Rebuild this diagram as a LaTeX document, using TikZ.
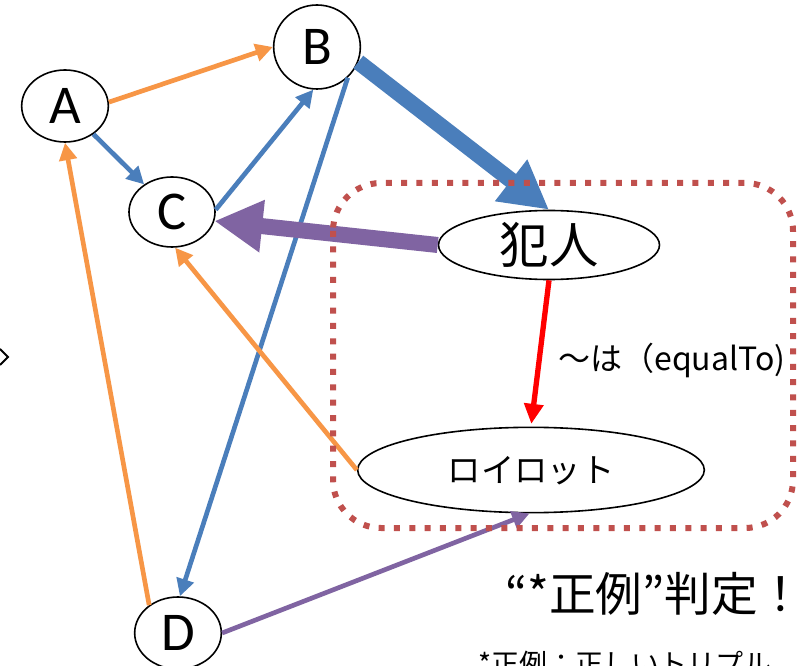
\documentclass[tikz,border=0pt]{standalone}
\usepackage{fontspec}
\newfontfamily\cjk{Noto Sans CJK JP}
\newfontfamily\lat{Carlito}
\usetikzlibrary{arrows.meta,shapes.geometric}
\definecolor{orng}{HTML}{F79646}
\definecolor{blu}{HTML}{4A7EBB}
\definecolor{purp}{HTML}{8064A2}
\definecolor{boxred}{HTML}{C0504D}
\begin{document}
\begin{tikzpicture}[x=0.75pt,y=-0.75pt,
  ell/.style={ellipse,draw=black,line width=1.2pt,fill=white,inner sep=0pt},
  letter/.style={ell,font=\lat\fontsize{41}{41}\selectfont,text height=26.5pt,text depth=0pt},
  thinarrow/.style={line width=3.5pt,-{Triangle[length=13pt,width=13pt]}},
  thickarrow/.style={line width=12pt,-{Triangle[length=36pt,width=37pt]}},
  txt/.style={anchor=west,inner sep=0pt}
]
\useasboundingbox (0,0) rectangle (803,666);
\clip (0,0) rectangle (803,666);
\fill[white] (0,0) rectangle (803,666);

\node[letter,minimum width=65pt,minimum height=54pt] (A) at (65,106) {A};
\node[letter,minimum width=65pt,minimum height=63pt] (B) at (317,47) {B};
\node[letter,minimum width=64.5pt,minimum height=52.5pt] (C) at (172,212) {C};
\node[letter,minimum width=65pt,minimum height=54pt] (D) at (178,633) {D};
\node[ell,font=\cjk\fontsize{37}{37}\selectfont,text height=28pt,text depth=0pt,minimum width=165.75pt,minimum height=51.75pt] (H) at (549,245) {犯人};
\node[ell,font=\cjk\fontsize{25}{25}\selectfont,text height=19pt,text depth=0pt,minimum width=260pt,minimum height=64pt] (R) at (531,470) {ロイロット};

\draw[thinarrow,orng] (A.5) -- (B.180);
\draw[thinarrow,blu] (A) -- (C);
\draw[thinarrow,blu] (C.3) -- (B.-95);
\draw[thinarrow,blu] (B.-45) -- (D.87);
\draw[thinarrow,orng] (D.136) -- (A.south);
\draw[thinarrow,orng] (R.west) -- (C.-85);
\draw[thinarrow,purp] (D.east) -- (R.-92);
\draw[red,line width=4pt,-{Triangle[length=15pt,width=14pt]},shorten >=2pt] (H.south) -- (R.north);
\draw[thickarrow,blu] (B.-20) -- (H.north);
\draw[thickarrow,purp] (H.west) -- (C.-12);

\draw[boxred,line width=4.5pt,dash pattern=on 4.5pt off 7pt,rounded corners=36pt] (333,183) rectangle (793,528);

\draw[line width=1.5pt] (0,349) -- (8,357) -- (0,365);

\node[txt,font=\cjk\fontsize{24}{24}\selectfont] (eq) at (558,360) {～は（equalTo)};
\node[txt,font=\cjk\fontsize{35}{35}\selectfont] (big) at (505,594) {“*正例”判定！};
\node[txt,font=\cjk\fontsize{21}{21}\selectfont] (note) at (478,664) {*正例：正しいトリプル};
\end{tikzpicture}
\end{document}
